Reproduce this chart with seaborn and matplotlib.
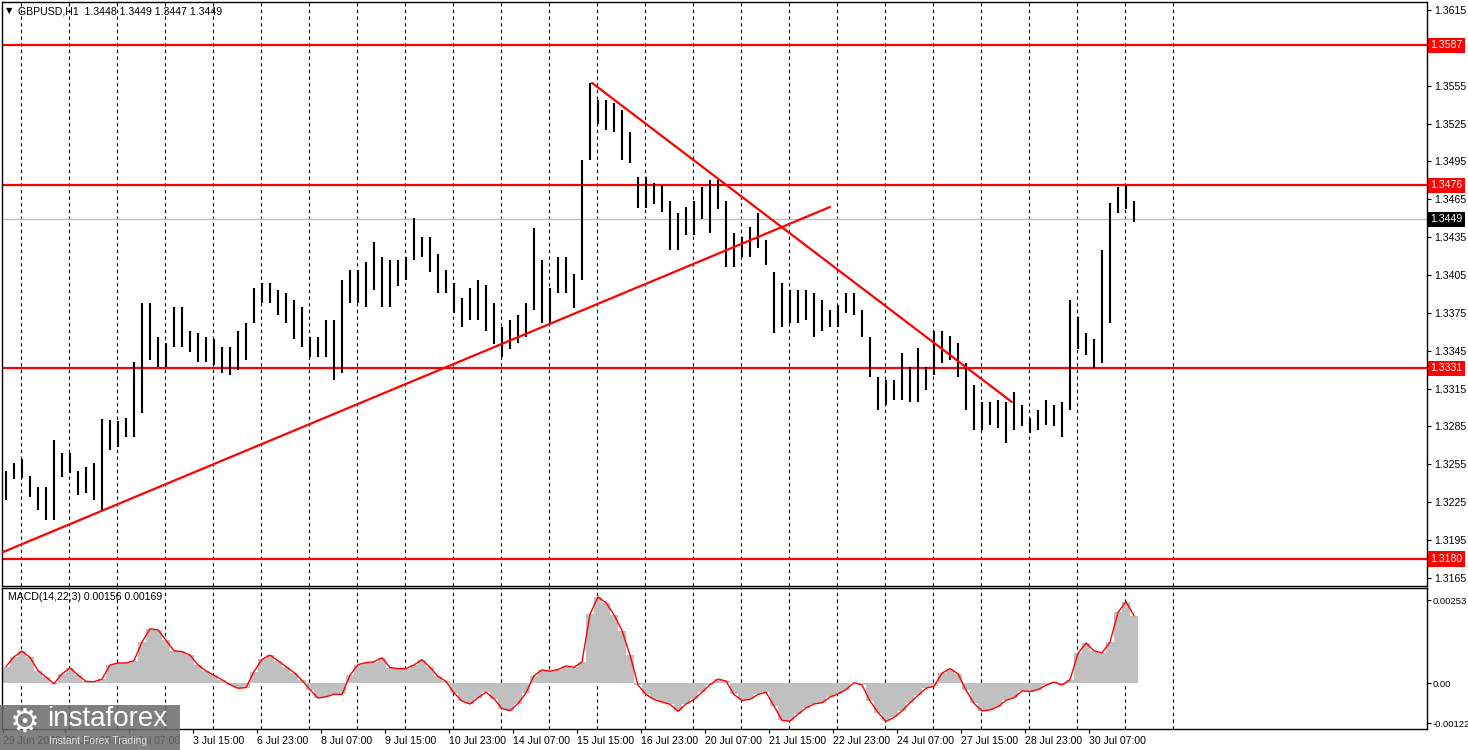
import numpy as np
import pandas as pd
import matplotlib.pyplot as plt
import seaborn as sns

sns.set_style("white")
plt.rcParams['font.family'] = ['Liberation Sans', 'DejaVu Sans']

# GBPUSD H1 in 4-hour groups (pips above 1.3000)
bar_hi = [250, 256, 259, 246, 237, 237, 274, 264, 264, 250,
          253, 256, 291, 290, 289, 292, 336, 383, 383, 356,
          351, 380, 380, 361, 359, 356, 354, 348, 348, 361,
          367, 395, 399, 399, 393, 391, 385, 380, 356, 356,
          369, 369, 401, 409, 409, 415, 431, 419, 417, 417,
          419, 450, 435, 435, 422, 409, 399, 387, 395, 401,
          397, 383, 364, 369, 373, 383, 442, 417, 395, 419,
          419, 406, 496, 557, 544, 544, 541, 536, 518, 483,
          483, 478, 476, 464, 454, 459, 464, 475, 480, 480,
          464, 438, 435, 443, 454, 433, 407, 399, 393, 393,
          393, 391, 385, 377, 381, 391, 391, 377, 356, 324,
          322, 322, 343, 332, 347, 332, 361, 361, 357, 351,
          335, 318, 304, 304, 306, 304, 312, 302, 292, 298,
          306, 302, 304, 385, 372, 359, 354, 425, 462, 475,
          476, 464]
bar_lo = [227, 243, 244, 229, 219, 211, 211, 245, 248, 231,
          232, 227, 219, 266, 269, 277, 277, 296, 338, 332,
          332, 348, 348, 344, 336, 336, 334, 327, 326, 330,
          338, 367, 383, 383, 373, 367, 354, 348, 340, 340,
          340, 322, 327, 383, 383, 380, 393, 380, 380, 396,
          401, 417, 419, 407, 391, 391, 375, 364, 369, 369,
          361, 350, 340, 346, 351, 356, 377, 367, 367, 391,
          391, 379, 401, 496, 525, 520, 518, 496, 494, 458,
          458, 461, 455, 425, 425, 437, 437, 449, 438, 457,
          411, 411, 419, 419, 426, 413, 359, 364, 367, 367,
          369, 356, 361, 364, 364, 375, 373, 356, 324, 298,
          302, 306, 306, 304, 304, 314, 326, 335, 338, 324,
          298, 282, 282, 286, 284, 272, 282, 285, 280, 282,
          286, 285, 277, 298, 346, 342, 331, 335, 367, 454,
          457, 447]
# MACD(14,22,3) main value, x 1e-3
macd = [0.50, 0.80, 0.97, 0.78, 0.38, 0.18, -0.02, 0.28, 0.46, 0.24,
        0.05, 0.04, 0.12, 0.55, 0.61, 0.61, 0.68, 1.25, 1.65, 1.62,
        1.30, 0.98, 0.96, 0.85, 0.55, 0.37, 0.23, 0.10, -0.05, -0.16,
        -0.14, 0.35, 0.72, 0.85, 0.68, 0.50, 0.32, 0.08, -0.20, -0.46,
        -0.42, -0.34, -0.35, 0.24, 0.56, 0.62, 0.65, 0.77, 0.47, 0.44,
        0.44, 0.55, 0.71, 0.48, 0.20, 0.05, -0.30, -0.55, -0.64, -0.45,
        -0.28, -0.48, -0.78, -0.84, -0.63, -0.30, 0.22, 0.40, 0.36, 0.41,
        0.52, 0.48, 0.64, 2.10, 2.62, 2.45, 2.08, 1.60, 0.85, -0.06,
        -0.35, -0.50, -0.58, -0.65, -0.86, -0.64, -0.50, -0.28, -0.05, 0.12,
        0.06, -0.35, -0.53, -0.50, -0.35, -0.28, -0.70, -1.14, -1.16, -0.95,
        -0.76, -0.64, -0.60, -0.43, -0.33, -0.20, 0.01, -0.06, -0.55, -0.90,
        -1.17, -1.05, -0.85, -0.60, -0.38, -0.16, -0.10, 0.30, 0.44, 0.28,
        -0.22, -0.62, -0.85, -0.82, -0.72, -0.53, -0.45, -0.24, -0.26, -0.20,
        -0.07, 0.03, -0.06, 0.10, 0.90, 1.22, 0.98, 0.92, 1.25, 2.15,
        2.48, 2.05]

levels = [1.3587, 1.3476, 1.3331, 1.3180]
last_price = 1.3449
# trend lines: (hour index, price)
up_trend_t = [0, 413.5]
up_trend_p = [1.31855, 1.34589]
down_trend_t = [294.5, 504.4]
down_trend_p = [1.35572, 1.33044]

price_ticks = [1.3615, 1.3555, 1.3525, 1.3495, 1.3465, 1.3435, 1.3405, 1.3375,
               1.3345, 1.3315, 1.3285, 1.3255, 1.3225, 1.3195, 1.3165]
time_pos = [0, 31, 63, 95, 127, 159, 191, 223, 255, 287, 319, 351, 383, 415,
            447, 479, 511, 543]
time_labels = ["29 Jun 2020", "30 Jun 23:00", "2 Jul 07:00", "3 Jul 15:00",
               "6 Jul 23:00", "8 Jul 07:00", "9 Jul 15:00", "10 Jul 23:00",
               "14 Jul 07:00", "15 Jul 15:00", "16 Jul 23:00", "20 Jul 07:00",
               "21 Jul 15:00", "22 Jul 23:00", "24 Jul 07:00", "27 Jul 15:00",
               "28 Jul 23:00", "30 Jul 07:00"]

df = pd.DataFrame({"hi": 1.3 + np.array(bar_hi) / 1e4,
                   "lo": 1.3 + np.array(bar_lo) / 1e4,
                   "macd": np.array(macd) / 1e3})
df["t"] = 4 * np.arange(len(df)) + 1.5

W, H = 1468, 750
fig = plt.figure(figsize=(W / 100, H / 100), dpi=100)
ax = fig.add_axes([2 / W, 1 - 586 / H, 1425 / W, 584 / H])
ax2 = fig.add_axes([2 / W, 1 - 729 / H, 1425 / W, 141 / H])

fs = 7.6
grid_x = 9 + 24 * np.arange(25)
for a in (ax, ax2):
    a.set_xlim(-0.5, 712)
    a.vlines(grid_x, 0, 1, transform=a.get_xaxis_transform(), color="black",
             lw=0.8, ls=(0, (3, 3)), zorder=0)
    for s in a.spines.values():
        s.set_color("black")
        s.set_linewidth(1)
    a.yaxis.tick_right()
    a.tick_params(axis="y", length=3, width=0.8, pad=2, labelsize=fs, colors="black")

# price panel
ax.set_ylim(1.31586, 1.36213)
ax.vlines(df["t"], df["lo"], df["hi"], color="black", lw=1.5, zorder=3)
ax.axhline(last_price, color="#c0c0c0", lw=1, zorder=1)
for lv in levels:
    ax.axhline(lv, color="red", lw=1.6, zorder=2)
sns.lineplot(x=up_trend_t, y=up_trend_p, ax=ax, color="red", lw=1.6, zorder=4)
sns.lineplot(x=down_trend_t, y=down_trend_p, ax=ax, color="red", lw=1.6, zorder=4)
ax.set_yticks(price_ticks)
ax.set_yticklabels([f"{p:.4f}" for p in price_ticks])
ax.set_xticks([])
ax.set_xlabel("")
ax.set_ylabel("")

ytr = ax.get_yaxis_transform()
for lv in levels:
    ax.text(1.0025, lv, f"{lv:.4f}", transform=ytr, ha="left", va="center",
            fontsize=fs, color="white", clip_on=False, zorder=10,
            bbox=dict(boxstyle="square,pad=0.25", fc="red", ec="none"))
ax.text(1.0025, last_price, f"{last_price:.4f}", transform=ytr, ha="left",
        va="center", fontsize=fs, color="white", clip_on=False, zorder=10,
        bbox=dict(boxstyle="square,pad=0.25", fc="black", ec="none"))
ax.text(4 / 1425, 1 - 9 / 584, "\u25bc", transform=ax.transAxes, ha="left",
        va="center", fontsize=6, color="black", family="DejaVu Sans")
ax.text(16 / 1425, 1 - 9 / 584, "GBPUSD,H1  1.3448 1.3449 1.3447 1.3449",
        transform=ax.transAxes, ha="left", va="center", fontsize=fs, color="black")

# MACD panel
ax2.set_ylim(-0.001402, 0.002896)
ax2.bar(df["t"], df["macd"], width=4, color="#c0c0c0", lw=0, zorder=1)
sns.lineplot(data=df, x="t", y="macd", ax=ax2, color="red", lw=1, zorder=2)
ax2.set_yticks([0.00253, 0.0, -0.00122])
ax2.set_yticklabels(["0.00253", "0.00", "-0.00122"])
ax2.tick_params(axis="y", labelsize=6.8, pad=1)
ax2.set_xticks(time_pos)
ax2.set_xticklabels(time_labels, ha="left")
ax2.tick_params(axis="x", length=3, width=0.8, pad=2, labelsize=fs, colors="black",
                bottom=True)
ax2.set_xlabel("")
ax2.set_ylabel("")
ax2.text(6 / 1425, 1 - 9 / 141, "MACD(14,22,3) 0.00156 0.00169",
         transform=ax2.transAxes, ha="left", va="center", fontsize=fs, color="black")

# watermark
fig.patches.append(plt.Rectangle((0, 0), 180 / W, 45 / H, transform=fig.transFigure,
                                 fc="#6a6a6a", ec="none", alpha=0.85, zorder=5))
fig.text(25 / W, 1 - 722 / H, "\u2699", color="white", fontsize=24,
         ha="center", va="center", zorder=6, family="DejaVu Sans")
fig.text(47 / W, 1 - 719 / H, "instaforex", color="white", fontsize=20,
         ha="left", va="center", zorder=6)
fig.text(49 / W, 1 - 741 / H, "Instant Forex Trading", color="#e0e0e0",
         fontsize=7.5, ha="left", va="center", zorder=6)

fig.savefig("out.png", dpi=100, facecolor="white")
